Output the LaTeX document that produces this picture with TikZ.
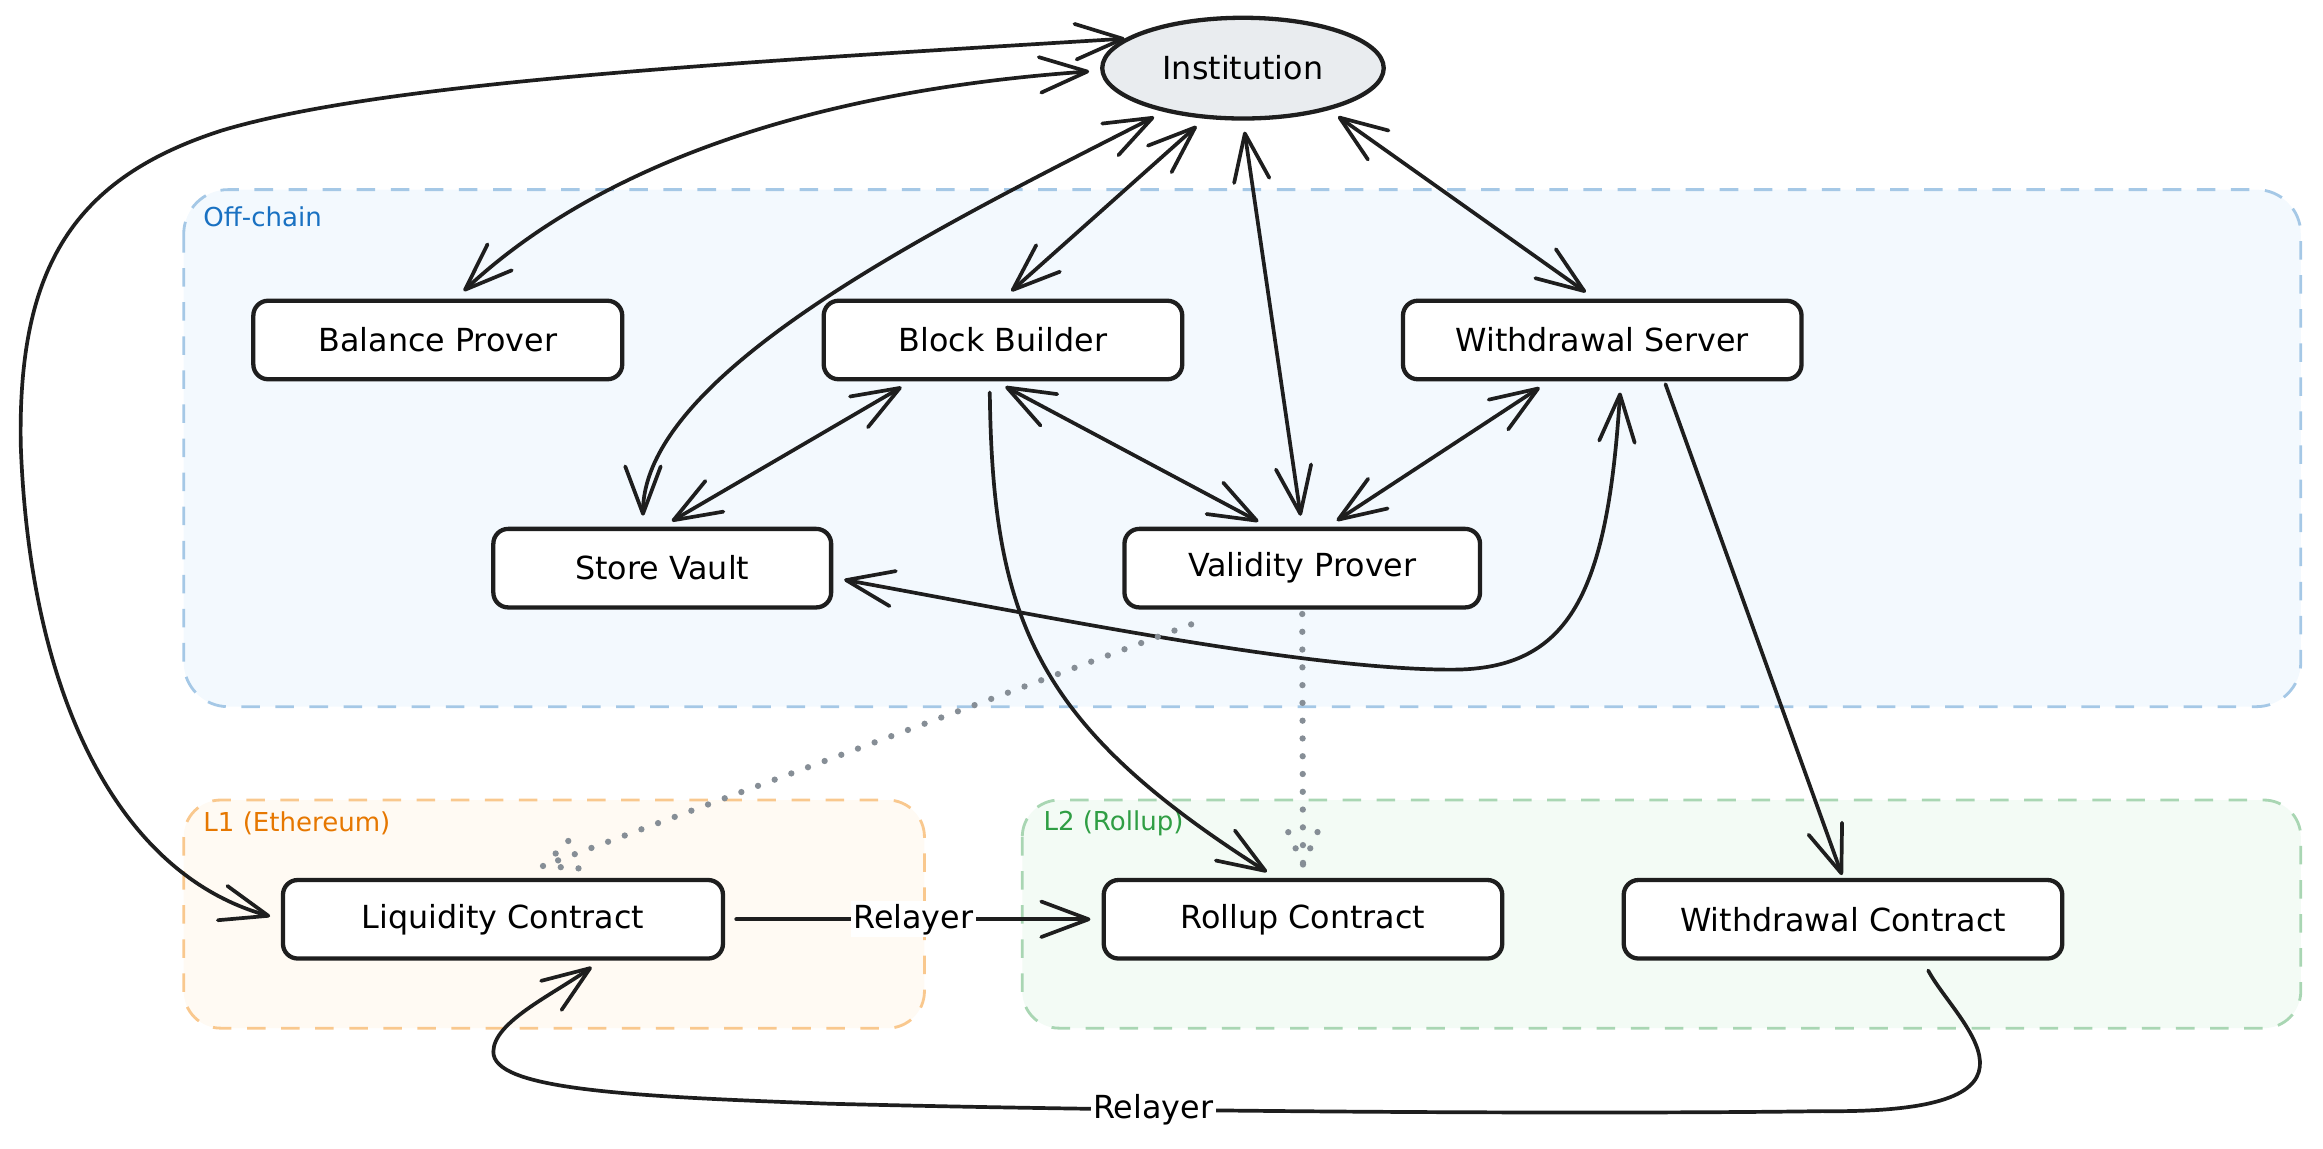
\documentclass[tikz,border=0pt]{standalone}
\usepackage{fontspec}
\setmainfont{DejaVu Sans}
\usepackage{tikz}
\usetikzlibrary{positioning,calc,arrows.meta,shapes.geometric,decorations.markings}
\definecolor{ink}{HTML}{1E1E1E}
\definecolor{offFill}{HTML}{F3F9FE}
\definecolor{offLine}{HTML}{A5C8E6}
\definecolor{offText}{HTML}{1971C2}
\definecolor{lOneFill}{HTML}{FFFAF3}
\definecolor{lOneLine}{HTML}{F9C88E}
\definecolor{lOneText}{HTML}{E67700}
\definecolor{lTwoFill}{HTML}{F3FBF5}
\definecolor{lTwoLine}{HTML}{A9D6B3}
\definecolor{lTwoText}{HTML}{2F9E44}
\definecolor{instFill}{HTML}{E9ECEF}
\definecolor{dotGray}{HTML}{868E96}

\begin{document}
\begin{tikzpicture}[x=0.2mm,y=-0.2mm,
   >={Straight Barb[round,length=6.4mm,width=4.8mm]},
   svc/.style={draw=ink,line width=0.58mm,rounded corners=2mm,fill=white,minimum height=10.6mm,inner sep=0pt,font=\fontsize{12.2}{14}\selectfont},
   zone/.style={line width=0.38mm,dash pattern=on 2.5mm off 2.1mm},
   zlbl/.style={anchor=west,inner sep=0pt,font=\fontsize{10}{12}\selectfont},
   lnk/.style={draw=ink,line width=0.5mm,line cap=round,shorten <=1.5mm,shorten >=1.5mm},
   lbl/.style={fill=white,inner sep=1pt,font=\fontsize{12.2}{14}\selectfont},
   dotl/.style={draw=dotGray,line width=0.85mm,line cap=round,dash pattern=on 0pt off 2.4mm},
   dothead/.style={postaction={decorate},decoration={markings,mark=at position 1 with {\draw[dotl] (0,0) -- (-5.1mm,2.3mm) (0,0) -- (-5.1mm,-2.3mm);}}}]
\useasboundingbox (0,0) rectangle (1568,775);

%% ---- zones ----
\draw[zone,fill=offFill,draw=offLine,rounded corners=6mm] (124,128) rectangle (1553,477);
\draw[zone,fill=lOneFill,draw=lOneLine,rounded corners=5mm] (124,540) rectangle (624,694);
\draw[zone,fill=lTwoFill,draw=lTwoLine,rounded corners=5mm] (690,540) rectangle (1553,694);
\node[zlbl,text=offText] (offlbl) at (137,146) {Off-chain};
\node[zlbl,text=lOneText] (l1lbl) at (137,556) {L1 (Ethereum)};
\node[zlbl,text=lTwoText] (l2lbl) at (704,556) {L2 (Rollup)};

%% ---- institution + services ----
\node[ellipse,draw=ink,line width=0.58mm,fill=instFill,minimum width=38mm,minimum height=13.6mm,inner sep=0pt,font=\fontsize{12.2}{14}\selectfont] (inst) at (839,46) {Institution};
\node[svc,minimum width=49.8mm] (bp) at (295.5,229.5) {Balance Prover};
\node[svc,minimum width=48.4mm] (bb) at (677,229.5) {Block Builder};
\node[svc,minimum width=53.8mm] (ws) at (1081.5,229.5) {Withdrawal Server};
\node[svc,minimum width=45.6mm] (sv) at (447,383.5) {Store Vault};
\node[svc,minimum width=48mm] (vp) at (879,383.5) {Validity Prover};
\node[svc,minimum width=59.4mm] (lc) at (339.5,620.5) {Liquidity Contract};
\node[svc,minimum width=53.8mm] (rc) at (879.5,620.5) {Rollup Contract};
\node[svc,minimum width=59.2mm] (wc) at (1244,620.5) {Withdrawal Contract};

%% ---- links to the institution ----
\draw[lnk,<->,shorten >=0mm] (lc.west) .. controls (80,590) and (20,470) .. (14,300)
   .. controls (12,180) and (50,120) .. (150,88)
   .. controls (260,55) and (500,42) .. (inst.166);
\draw[lnk,<->] ($(bp.north)+(12,0)$) .. controls (400,115) and (540,62) .. (inst.181);
\draw[lnk,<->] ($(sv.north)+(-13,0)$) .. controls (434,250) and (640,150) .. (inst.209);
\draw[lnk,<->] (bb.north) -- (inst.233);
\draw[lnk,<->] (vp.north) -- (inst.south);
\draw[lnk,<->] ($(ws.north)+(-5,0)$) -- (inst.334);

%% ---- off-chain links ----
\draw[lnk,<->] (sv.north) -- ($(bb.south)+(-62,0)$);
\draw[lnk,<->] ($(bb.south)+(-5,0)$) -- ($(vp.north)+(-23,0)$);
\draw[lnk,<->] ($(vp.north)+(17,0)$) -- ($(ws.south)+(-36,0)$);
\draw[lnk,<->] ($(sv.east)+(0,6.5)$) .. controls (700,415) and (880,452) .. (980,452)
   .. controls (1060,452) and (1085,400) .. ($(ws.south)+(12.5,0)$);

%% ---- down to the chains ----
\draw[lnk,->] ($(bb.south)+(-9,0)$) .. controls (670,420) and (700,490) .. ($(rc.north)+(-18,0)$);
\draw[lnk,->,shorten <=0.4mm,shorten >=0.4mm] ($(ws.south)+(42,0)$) -- (wc.north);
\draw[dotl,dothead] ($(vp.south)+(-75,10)$) -- ($(lc.north)+(27,-8)$);
\draw[dotl,dothead] ($(vp.south)+(0,3)$) -- ($(rc.north)+(0,-9)$);

%% ---- relayers ----
\draw[lnk,->] (lc.east) -- node[lbl] (rel1) {Relayer} (rc.west);
\draw[lnk,->] ($(wc.south)+(54,0)$) .. controls (1320,690) and (1400,752) .. (1230,750)
   .. controls (1100,752) and (800,751) .. (560,745) node[lbl,pos=0.71] (rel2) {Relayer}
   .. controls (420,740) and (333,735) .. (333,710)
   .. controls (333,690) and (372,672) .. ($(lc.south)+(66,0)$);
\end{tikzpicture}
\end{document}
